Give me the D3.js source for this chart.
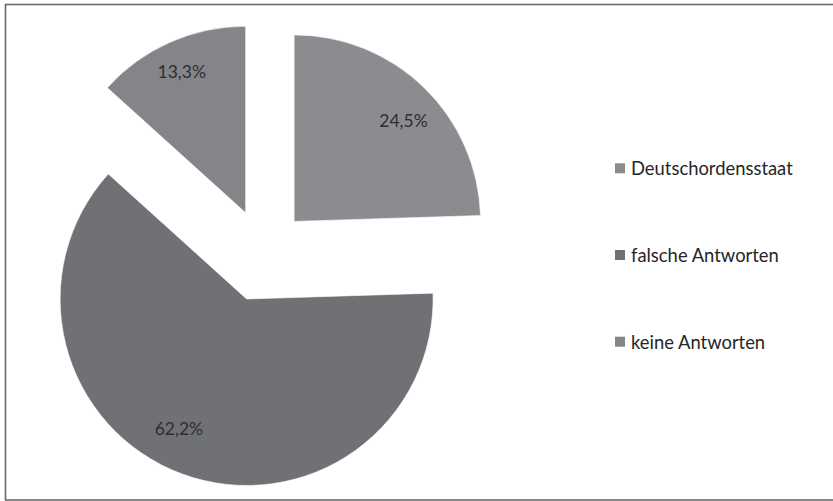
<!DOCTYPE html>
<html><head><meta charset="utf-8">
<script src="https://cdn.jsdelivr.net/npm/d3@7"></script>
<style>body{margin:0;background:#fff}svg{display:block}</style>
</head><body>
<svg id="c" width="833" height="501"></svg>
<script>
const categories = ["Deutschordensstaat", "falsche Antworten", "keine Antworten"];
const values = [24.5, 62.2, 13.3];
const labels = ["24,5%", "62,2%", "13,3%"];
const colors = ["#8c8c90", "#707175", "#858589"];

const svg = d3.select("#c");
svg.append("rect").attr("x", 5.5).attr("y", 4.5).attr("width", 830).attr("height", 495.5)
  .attr("fill", "#fff").attr("stroke", "#6a6a6a").attr("stroke-width", 1.6);

const cx = 263.5, cy = 253, R = 186.5;
const explode = [44, 49, 44];
const labelR = 150;
const nudge = [[5, 7], [-16, -11], [-3, -4]];

const pie = d3.pie().sort(null).value(d => d)(values);
const arc = d3.arc().innerRadius(0).outerRadius(R);
const g = svg.append("g").attr("transform", `translate(${cx},${cy})`);

pie.forEach((p, i) => {
  const mid = (p.startAngle + p.endAngle) / 2;
  const dx = Math.sin(mid) * explode[i], dy = -Math.cos(mid) * explode[i];
  const sg = g.append("g").attr("transform", `translate(${dx},${dy})`);
  sg.append("path").attr("d", arc(p)).attr("fill", colors[i])
    .attr("stroke", "#fff").attr("stroke-width", 0.6);
  sg.append("text")
    .attr("x", Math.sin(mid) * labelR + nudge[i][0])
    .attr("y", -Math.cos(mid) * labelR + nudge[i][1])
    .attr("text-anchor", "middle").attr("dominant-baseline", "central")
    .attr("font-family", "Lato, 'Open Sans', sans-serif").attr("font-size", 17.5)
    .attr("fill", "#2e2e2e").text(labels[i]);
});

const legY = d3.scalePoint().domain(categories).range([168.3, 341.7]);
const lg = svg.append("g");
categories.forEach((c, i) => {
  const y = legY(c);
  lg.append("rect").attr("x", 615).attr("y", y - 5).attr("width", 10).attr("height", 10)
    .attr("fill", colors[i]);
  lg.append("text").attr("x", 631).attr("y", y).attr("dominant-baseline", "central")
    .attr("font-family", "Lato, 'Open Sans', sans-serif").attr("font-size", 18.4)
    .attr("fill", "#262626").text(c);
});
</script>
</body></html>
